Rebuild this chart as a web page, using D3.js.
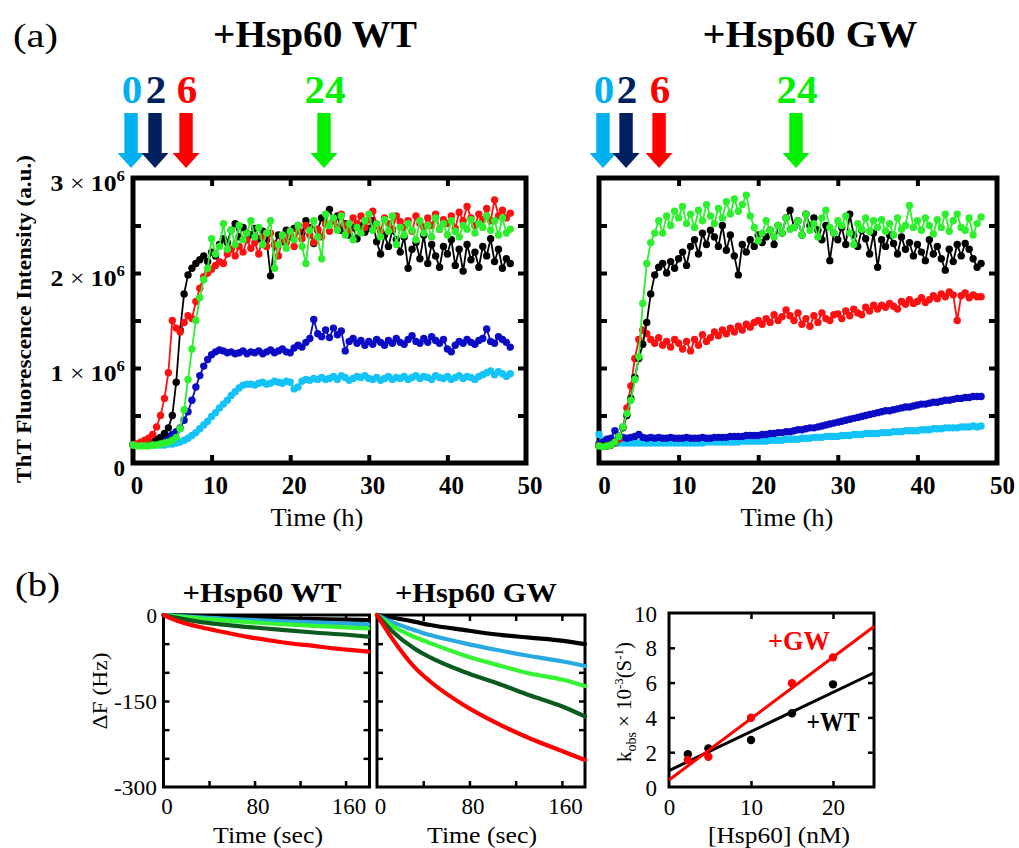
<!DOCTYPE html>
<html><head><meta charset="utf-8">
<script src="https://cdn.jsdelivr.net/npm/d3@7"></script>
<style>body{margin:0;background:#fff}svg{display:block}</style>
</head><body>
<svg id="c" width="1019" height="848"></svg>
<script>
// ---------------- DATA ----------------
// ThT kinetics, sampled every 0.5 h from 0 to 48 h (values in units of 10^6 a.u.)
const hours = d3.range(0, 48.01, 0.5);
const lbWT = [0.19,0.19,0.19,0.19,0.19,0.19,0.19,0.19,0.19,0.20,
 0.20,0.21,0.22,0.24,0.26,0.29,0.32,0.36,0.40,0.44,
 0.49,0.53,0.58,0.62,0.66,0.71,0.75,0.79,0.82,0.83,
 0.83,0.82,0.84,0.85,0.83,0.84,0.86,0.85,0.84,0.86,
 0.85,0.78,0.80,0.86,0.88,0.87,0.89,0.88,0.90,0.88,
 0.89,0.91,0.88,0.92,0.90,0.87,0.89,0.91,0.90,0.92,
 0.89,0.88,0.90,0.87,0.89,0.91,0.88,0.90,0.89,0.91,
 0.88,0.90,0.92,0.89,0.91,0.90,0.88,0.92,0.90,0.89,
 0.91,0.88,0.90,0.92,0.89,0.91,0.90,0.88,0.91,0.93,
 0.95,0.97,0.93,0.96,0.94,0.91,0.94];
const blueWT = [0.19,0.19,0.20,0.21,0.22,0.24,0.25,0.26,0.27,0.28,
 0.30,0.33,0.37,0.45,0.54,0.66,0.80,0.92,1.02,1.09,
 1.14,1.17,1.19,1.18,1.16,1.17,1.15,1.16,1.18,1.15,
 1.17,1.16,1.18,1.15,1.17,1.19,1.16,1.18,1.20,1.17,
 1.16,1.21,1.24,1.22,1.27,1.31,1.51,1.36,1.33,1.40,
 1.32,1.42,1.35,1.39,1.18,1.28,1.31,1.26,1.29,1.24,
 1.28,1.25,1.30,1.27,1.24,1.29,1.26,1.31,1.27,1.25,
 1.30,1.34,1.28,1.26,1.31,1.27,1.33,1.29,1.26,1.30,
 1.20,1.17,1.24,1.28,1.26,1.30,1.27,1.25,1.29,1.31,
 1.41,1.28,1.26,1.33,1.30,1.27,1.22];
const blackWT = [0.19,0.19,0.19,0.20,0.21,0.22,0.24,0.27,0.31,0.37,
 0.50,0.85,1.40,1.78,1.98,2.05,2.10,2.14,2.18,2.12,
 2.22,2.18,2.30,2.36,2.32,2.45,2.52,2.38,2.48,2.42,
 2.40,2.47,2.36,2.44,2.35,1.97,2.30,2.40,2.33,2.45,
 2.38,2.47,2.50,2.42,2.55,2.48,2.31,2.45,2.58,2.52,
 2.67,2.55,2.60,2.45,2.52,2.40,2.48,2.36,2.50,2.43,
 2.47,2.55,2.33,2.20,2.40,2.28,2.45,2.35,2.22,2.38,
 2.05,2.25,2.32,2.15,2.40,2.10,2.30,2.18,2.06,2.28,
 2.20,2.35,2.08,2.25,2.02,2.30,2.14,2.22,2.06,2.28,
 2.18,2.36,2.12,2.25,2.05,2.15,2.10];
const redWT = [0.19,0.20,0.22,0.24,0.26,0.30,0.38,0.50,0.68,0.95,
 1.50,1.42,1.38,1.48,1.55,1.52,1.70,1.84,1.96,2.00,
 2.04,2.08,2.12,2.10,2.20,2.25,2.18,2.28,2.22,2.35,
 2.26,2.32,2.20,2.38,2.28,2.42,2.30,2.18,2.36,2.32,
 2.40,2.28,2.45,2.36,2.50,2.40,2.32,2.46,2.38,2.52,
 2.44,2.55,2.48,2.62,2.50,2.45,2.58,2.52,2.60,2.48,
 2.56,2.65,2.50,2.44,2.58,2.52,2.46,2.60,2.54,2.48,
 2.55,2.44,2.60,2.52,2.48,2.58,2.50,2.62,2.46,2.56,
 2.52,2.60,2.47,2.64,2.55,2.70,2.58,2.50,2.62,2.56,
 2.68,2.55,2.77,2.60,2.66,2.58,2.63];
const greenWT = [0.19,0.18,0.18,0.18,0.18,0.19,0.19,0.20,0.21,0.22,
 0.24,0.27,0.36,0.56,0.88,1.20,1.50,1.74,1.93,2.05,
 2.36,2.20,2.28,2.52,2.25,2.45,2.30,2.50,2.35,2.42,
 2.55,2.38,2.48,2.30,2.42,2.55,2.05,2.30,2.40,2.26,
 2.44,2.35,2.50,2.28,2.10,2.45,2.55,2.38,2.15,2.62,
 2.50,2.58,2.45,2.60,2.40,2.52,2.35,2.48,2.42,2.55,
 2.62,2.45,2.52,2.38,2.56,2.44,2.60,2.30,2.48,2.40,
 2.52,2.45,2.35,2.55,2.42,2.50,2.38,2.58,2.46,2.52,
 2.40,2.55,2.44,2.38,2.50,2.46,2.56,2.42,2.52,2.48,
 2.60,2.45,2.55,2.40,2.58,2.42,2.46];
const lbGW = [0.30,0.24,0.22,0.22,0.21,0.21,0.21,0.21,0.21,0.21,
 0.21,0.21,0.21,0.21,0.21,0.21,0.21,0.21,0.21,0.21,
 0.21,0.21,0.21,0.21,0.21,0.21,0.21,0.22,0.22,0.22,
 0.22,0.22,0.22,0.22,0.22,0.22,0.23,0.23,0.23,0.23,
 0.23,0.23,0.23,0.24,0.24,0.24,0.24,0.25,0.25,0.25,
 0.25,0.26,0.26,0.26,0.27,0.27,0.27,0.28,0.28,0.28,
 0.28,0.29,0.29,0.29,0.30,0.30,0.30,0.31,0.31,0.31,
 0.31,0.32,0.32,0.32,0.33,0.33,0.33,0.34,0.34,0.34,
 0.34,0.35,0.35,0.35,0.36,0.36,0.36,0.37,0.37,0.37,
 0.37,0.38,0.38,0.38,0.39,0.38,0.39];
const blueGW = [0.20,0.22,0.25,0.26,0.34,0.28,0.27,0.26,0.27,0.28,
 0.30,0.27,0.26,0.27,0.26,0.27,0.26,0.26,0.27,0.26,
 0.26,0.26,0.27,0.26,0.26,0.26,0.27,0.26,0.26,0.27,
 0.27,0.27,0.27,0.28,0.28,0.28,0.28,0.29,0.29,0.29,
 0.29,0.30,0.30,0.31,0.31,0.32,0.32,0.33,0.33,0.34,
 0.35,0.35,0.36,0.37,0.37,0.38,0.39,0.40,0.41,0.42,
 0.43,0.44,0.45,0.46,0.47,0.48,0.49,0.50,0.51,0.52,
 0.53,0.54,0.55,0.55,0.56,0.57,0.58,0.59,0.59,0.60,
 0.61,0.62,0.62,0.63,0.64,0.64,0.65,0.66,0.66,0.67,
 0.68,0.68,0.69,0.69,0.70,0.70,0.70];
const redGW = [0.18,0.18,0.18,0.19,0.21,0.25,0.38,0.58,0.81,1.10,
 1.30,1.40,1.36,1.30,1.26,1.32,1.24,1.28,1.22,1.30,
 1.26,1.20,1.28,1.18,1.30,1.24,1.35,1.28,1.32,1.38,
 1.34,1.40,1.36,1.42,1.38,1.44,1.40,1.46,1.43,1.48,
 1.50,1.46,1.52,1.48,1.56,1.50,1.54,1.61,1.55,1.50,
 1.58,1.46,1.52,1.44,1.55,1.48,1.58,1.52,1.50,1.56,
 1.57,1.52,1.60,1.55,1.62,1.58,1.56,1.64,1.60,1.66,
 1.62,1.66,1.64,1.68,1.65,1.62,1.70,1.67,1.72,1.68,
 1.70,1.74,1.69,1.72,1.76,1.73,1.78,1.75,1.80,1.77,
 1.50,1.76,1.79,1.74,1.77,1.75,1.75];
const blackGW = [0.18,0.18,0.18,0.19,0.22,0.28,0.37,0.50,0.68,0.90,
 1.10,1.25,1.48,1.78,1.98,2.06,2.10,2.00,2.12,2.05,
 2.15,2.22,2.08,2.28,2.35,2.20,2.42,2.30,2.45,2.38,
 2.28,2.50,2.24,2.40,2.18,1.98,2.30,2.22,2.35,2.28,
 2.40,2.32,2.38,2.45,2.30,2.50,2.42,2.58,2.66,2.48,
 2.55,2.40,2.62,2.50,2.58,2.45,2.35,2.50,2.13,2.42,
 2.35,2.48,2.30,2.62,2.40,2.28,2.45,2.36,2.20,2.42,
 2.06,2.35,2.28,2.40,2.31,2.20,2.38,2.25,2.32,2.18,
 2.30,2.22,2.13,2.35,2.20,2.28,2.15,2.03,2.25,2.12,
 2.30,2.18,2.31,2.25,2.15,2.06,2.10];
const greenGW = [0.18,0.17,0.18,0.19,0.22,0.28,0.38,0.52,0.66,0.88,
 1.12,1.68,2.10,2.32,2.42,2.55,2.42,2.60,2.50,2.65,
 2.58,2.70,2.52,2.62,2.48,2.66,2.55,2.72,2.60,2.52,
 2.68,2.58,2.75,2.62,2.78,2.65,2.72,2.82,2.60,2.48,
 2.34,2.42,2.55,2.45,2.38,2.50,2.42,2.58,2.46,2.48,
 2.55,2.40,2.62,2.45,2.52,2.38,2.58,2.66,2.48,2.42,
 2.55,2.50,2.60,2.42,2.30,2.52,2.46,2.58,2.44,2.55,
 2.48,2.56,2.44,2.52,2.40,2.58,2.46,2.50,2.71,2.48,
 2.55,2.45,2.58,2.50,2.41,2.56,2.48,2.62,2.44,2.55,
 2.62,2.48,2.45,2.58,2.40,2.52,2.59];

// Addition times (arrows) and their read positions on the time axis (h)
const arrowLabels = ['0', '2', '6', '24'];
const arrowPosWT = [-0.25, 2.8, 6.75, 24.3];
const arrowPosGW = [0.5, 3.4, 7.55, 24.75];

// QCM frequency shifts (Hz) vs time (sec)
const qcmTime = [0, 12, 32, 46, 75, 104, 132, 161, 180];
const wtBlack = [0, -0.5, -1.8, -2.8, -4.5, -6, -7, -8, -8.7];
const wtLightBlue = [0, -1.5, -4, -5.5, -8.5, -11, -13, -15, -16.3];
const wtLightGreen = [0, -2.5, -6, -8, -12.5, -16, -19, -21.5, -23.3];
const wtDarkGreen = [0, -5, -12, -15.5, -21, -26, -30.5, -34.5, -37.8];
const wtRed = [0, -10, -21, -27, -38.5, -47.5, -54, -60.5, -64];
const gwBlack = [0, -4, -11.6, -17.4, -26, -34, -39.5, -45, -50.6];
const gwLightBlue = [0, -11.6, -26, -35, -49, -61, -71.5, -81, -89];
const gwLightGreen = [0, -17.4, -38, -49, -70, -87, -102, -113, -124];
const gwDarkGreen = [0, -26, -58, -74, -99, -119, -140, -160, -177];
const gwRed = [0, -37.8, -90, -116, -157, -189, -215, -238, -253];

// k_obs vs [Hsp60]
const hsp60 = [2.3, 4.8, 10, 15, 20];
const kGW = [1.55, 1.74, 3.98, 5.96, 7.45];
const kWT = [1.88, 2.22, 2.70, 4.24, 5.90];
const fitGW = [0.40, 0.353];   // intercept, slope
const fitWT = [0.94, 0.225];

// tick labels
const thtXTicks = [0, 10, 20, 30, 40, 50];
const thtYTicks = [0, 1, 2, 3];
const qcmXTicks = [0, 80, 160];
const qcmYTicks = [0, -150, -300];
const kXTicks = [0, 10, 20];
const kYTicks = [0, 2, 4, 6, 8, 10];

// ---------------- STYLE ----------------
const FONT = '"Liberation Serif","Times New Roman",serif';
const C = {lb:'#14c3f8', blue:'#0b0bc6', black:'#000000', red:'#ff1010', green:'#2cf02c'};
const arrowColors = ['#00b0f0', '#002060', '#ff0000', '#00f000'];
const Q = {black:'#000000', lb:'#29a9e1', lg:'#33f533', dg:'#0b5a1e', red:'#ff0000'};

const svg = d3.select('#c');

function styleText(t, o) {
  t.attr('font-family', FONT).attr('font-size', o.size || 20)
   .attr('font-weight', o.weight || 'normal')
   .attr('text-anchor', o.anchor || 'middle').attr('fill', o.fill || '#000');
}
function place(t, x, y, o) {
  let tr = `translate(${x},${y})`;
  if (o.rot) tr += ' rotate(-90)';
  t.attr('x', 0).attr('y', 0).attr('transform', tr);
  if (o.w) {
    const w = t.node().getBBox().width;
    if (w > 0) t.attr('transform', tr + ` scale(${o.w / w},1)`);
  }
}
function addText(parent, x, y, str, o) {
  const t = parent.append('text');
  if (typeof str === 'function') str(t); else t.text(str);
  styleText(t, o);
  place(t, x, y, o);
  return t;
}
function tickMarks(parent, axis, tr, sw) {
  const a = parent.append('g').attr('transform', tr).call(axis.tickFormat(() => ''));
  a.select('.domain').remove();
  a.selectAll('.tick line').attr('stroke', '#000').attr('stroke-width', sw);
  a.selectAll('.tick text').remove();
}
function axisText(parent, axis, tr, o, fmt) {
  const a = parent.append('g').attr('transform', tr).call(axis.tickSize(0));
  a.select('.domain').remove();
  a.selectAll('.tick line').remove();
  a.attr('font-family', null).attr('font-size', null).attr('text-anchor', null);
  a.selectAll('.tick text').each(function(d) {
    const t = d3.select(this).attr('dy', null);
    if (fmt) { t.text(null); fmt(t, d); }
    styleText(t, o);
    place(t, o.dx || 0, o.dy || 0, {w: o.wFn ? o.wFn(d) : null});
  });
}

// ---------------- PANEL (a) ----------------
function tht(cfg) {
  const g = svg.append('g');
  const x = d3.scaleLinear().domain([0, 50]).range(cfg.xr);
  const y = d3.scaleLinear().domain([0, 3]).range([463, 178]);
  g.append('rect').attr('x', x(0)).attr('y', y(3)).attr('width', x(50) - x(0))
    .attr('height', y(0) - y(3)).attr('fill', 'none').attr('stroke', '#000').attr('stroke-width', 5);
  const tv = [10, 20, 30, 40], yv = [0.5, 1, 1.5, 2, 2.5];
  tickMarks(g, d3.axisBottom(x).tickValues(tv).tickSize(-8), `translate(0,${y(0)})`, 4);
  tickMarks(g, d3.axisTop(x).tickValues(tv).tickSize(-8), `translate(0,${y(3)})`, 4);
  tickMarks(g, d3.axisLeft(y).tickValues(yv).tickSize(-8), `translate(${x(0)},0)`, 4);
  tickMarks(g, d3.axisRight(y).tickValues(yv).tickSize(-8), `translate(${x(50)},0)`, 4);

  const line = d3.line().x((d, i) => x(hours[i])).y(d => y(d));
  cfg.series.forEach(s => {
    g.append('path').attr('d', line(s.values)).attr('fill', 'none')
      .attr('stroke', s.color).attr('stroke-width', 1.8);
    g.append('g').selectAll('circle').data(s.values).join('circle')
      .attr('cx', (d, i) => x(hours[i])).attr('cy', d => y(d)).attr('r', 3.7).attr('fill', s.color);
  });

  axisText(g, d3.axisBottom(x).tickValues(thtXTicks).tickFormat(d3.format('d')),
    `translate(0,${y(0)})`, {size: 25, weight: 'bold', dx: cfg.lblDx, dy: 31});
  if (cfg.yLabels) {
    axisText(g, d3.axisLeft(y).tickValues(thtYTicks), `translate(125,0)`,
      {size: 23, weight: 'bold', anchor: 'end', dy: 12, wFn: d => d === 0 ? null : 75},
      (t, d) => {
        if (d === 0) { t.text('0'); return; }
        t.append('tspan').text(d);
        t.append('tspan').attr('font-weight', 'normal').text(' × ');
        t.append('tspan').text('10');
        t.append('tspan').attr('font-size', 15).attr('dy', -10).text('6');
      });
    addText(g, 31, 319, 'ThT Fluorescence Intensity (a.u.)', {size: 22, weight: 'bold', rot: true, w: 328});
  }
  addText(g, cfg.timeX, 526, 'Time (h)', {size: 26, w: 93});
  addText(g, cfg.titleX, 47, cfg.title, {size: 38, weight: 'bold', w: cfg.titleW});
  cfg.arrows.forEach((p, i) => {
    const cx = x(p);
    g.append('path')
      .attr('d', `M${cx-6.7},113H${cx+6.7}V153H${cx+13.5}L${cx},168L${cx-13.5},153H${cx-6.7}Z`)
      .attr('fill', arrowColors[i]);
    addText(g, cx + 1, 103, arrowLabels[i], {size: 41, weight: 'bold', fill: arrowColors[i]});
  });
}

tht({xr: [133, 526], title: '+Hsp60 WT', titleX: 315, titleW: 204, timeX: 317, lblDx: 3.5,
  yLabels: true, arrows: arrowPosWT,
  series: [{values: lbWT, color: C.lb}, {values: blueWT, color: C.blue},
           {values: blackWT, color: C.black}, {values: redWT, color: C.red},
           {values: greenWT, color: C.green}]});
tht({xr: [599, 997], title: '+Hsp60 GW', titleX: 810, titleW: 215, timeX: 787, lblDx: 5,
  yLabels: false, arrows: arrowPosGW,
  series: [{values: lbGW, color: C.lb}, {values: blueGW, color: C.blue},
           {values: redGW, color: C.red}, {values: blackGW, color: C.black},
           {values: greenGW, color: C.green}]});

addText(svg, 13, 47, '(a)', {size: 34, anchor: 'start', w: 45});
addText(svg, 15, 596, '(b)', {size: 34, anchor: 'start', w: 45});

// ---------------- PANEL (b) QCM ----------------
function qcm(cfg) {
  const g = svg.append('g');
  const x = d3.scaleLinear().domain([0, cfg.xmax]).range(cfg.xr);
  const y = d3.scaleLinear().domain([-300, 0]).range([787, 615]);
  g.append('rect').attr('x', x(0)).attr('y', y(0)).attr('width', x(cfg.xmax) - x(0))
    .attr('height', y(-300) - y(0)).attr('fill', 'none').attr('stroke', '#000').attr('stroke-width', 3);
  const tv = [40, 80, 120, 160], yv = [-250, -200, -150, -100, -50];
  tickMarks(g, d3.axisBottom(x).tickValues(tv).tickSize(-6), `translate(0,${y(-300)})`, 2.5);
  tickMarks(g, d3.axisTop(x).tickValues(tv).tickSize(-6), `translate(0,${y(0)})`, 2.5);
  tickMarks(g, d3.axisLeft(y).tickValues(yv).tickSize(-6), `translate(${x(0)},0)`, 2.5);
  tickMarks(g, d3.axisRight(y).tickValues(yv).tickSize(-6), `translate(${x(cfg.xmax)},0)`, 2.5);
  const line = d3.line().x((d, i) => x(qcmTime[i])).y(d => y(d)).curve(d3.curveMonotoneX);
  cfg.series.forEach(s => g.append('path').attr('d', line(s.values)).attr('fill', 'none')
    .attr('stroke', s.color).attr('stroke-width', 4.2).attr('stroke-linecap', 'round'));
  axisText(g, d3.axisBottom(x).tickValues(qcmXTicks).tickFormat(d => String(d)),
    `translate(0,${y(-300)})`, {size: 23, dx: 3, dy: 27});
  if (cfg.yLabels) {
    axisText(g, d3.axisLeft(y).tickValues(qcmYTicks).tickFormat(d => String(d)),
      `translate(157,0)`, {size: 21, anchor: 'end', dy: 7.5, wFn: d => d === 0 ? null : 43});
    addText(g, 107, 691, 'ΔF (Hz)', {size: 22, rot: true, w: 77});
  }
  addText(g, cfg.titleX, 602, cfg.title, {size: 27, weight: 'bold', w: cfg.titleW});
  addText(g, cfg.timeX, 843, 'Time (sec)', {size: 23, w: 110});
}
qcm({xr: [163.5, 369.5], xmax: 181, title: '+Hsp60 WT', titleX: 262, titleW: 159, timeX: 268, yLabels: true,
  series: [{values: wtBlack, color: Q.black}, {values: wtLightBlue, color: Q.lb},
           {values: wtLightGreen, color: Q.lg}, {values: wtDarkGreen, color: Q.dg},
           {values: wtRed, color: Q.red}]});
qcm({xr: [377, 585], xmax: 180, title: '+Hsp60 GW', titleX: 476, titleW: 162, timeX: 482, yLabels: false,
  series: [{values: gwBlack, color: Q.black}, {values: gwLightBlue, color: Q.lb},
           {values: gwLightGreen, color: Q.lg}, {values: gwDarkGreen, color: Q.dg},
           {values: gwRed, color: Q.red}]});

// ---------------- k_obs panel ----------------
(function() {
  const g = svg.append('g');
  const x = d3.scaleLinear().domain([0, 25]).range([669, 874]);
  const y = d3.scaleLinear().domain([0, 10]).range([787, 613]);
  g.append('rect').attr('x', x(0)).attr('y', y(10)).attr('width', x(25) - x(0))
    .attr('height', y(0) - y(10)).attr('fill', 'none').attr('stroke', '#000').attr('stroke-width', 3);
  tickMarks(g, d3.axisBottom(x).tickValues([10, 20]).tickSize(-6), `translate(0,${y(0)})`, 2.5);
  tickMarks(g, d3.axisTop(x).tickValues([10, 20]).tickSize(-6), `translate(0,${y(10)})`, 2.5);
  tickMarks(g, d3.axisLeft(y).tickValues([2, 4, 6, 8]).tickSize(-6), `translate(${x(0)},0)`, 2.5);
  tickMarks(g, d3.axisRight(y).tickValues([2, 4, 6, 8]).tickSize(-6), `translate(${x(25)},0)`, 2.5);
  const sets = [{k: kWT, fit: fitWT, color: '#000'}, {k: kGW, fit: fitGW, color: '#ff0000'}];
  sets.forEach(s => {
    g.append('line').attr('x1', x(0)).attr('y1', y(s.fit[0]))
      .attr('x2', x(25)).attr('y2', y(s.fit[0] + s.fit[1] * 25))
      .attr('stroke', s.color).attr('stroke-width', 3);
    g.append('g').selectAll('circle').data(s.k).join('circle')
      .attr('cx', (d, i) => x(hsp60[i])).attr('cy', d => y(d)).attr('r', 4.2).attr('fill', s.color);
  });
  axisText(g, d3.axisBottom(x).tickValues(kXTicks).tickFormat(d => String(d)),
    `translate(0,${y(0)})`, {size: 23, dy: 28});
  axisText(g, d3.axisLeft(y).tickValues(kYTicks).tickFormat(d => String(d)),
    `translate(657,0)`, {size: 23, anchor: 'end', dy: 8});
  addText(g, 779, 843, '[Hsp60] (nM)', {size: 23, w: 142});
  addText(g, 799, 650, '+GW', {size: 27, weight: 'bold', fill: '#ff0000', w: 62});
  addText(g, 833, 731, '+WT', {size: 27, weight: 'bold', w: 53});
  addText(g, 631, 702, t => {
    t.append('tspan').text('k');
    t.append('tspan').attr('font-size', 14).attr('dy', 5).text('obs');
    t.append('tspan').attr('dy', -5).text(' × 10');
    t.append('tspan').attr('font-size', 13).attr('dy', -8).text('-3');
    t.append('tspan').attr('dy', 8).text('(S');
    t.append('tspan').attr('font-size', 13).attr('dy', -8).text('-1');
    t.append('tspan').attr('dy', 8).text(')');
  }, {size: 21, rot: true, w: 120});
})();
</script>
</body></html>
